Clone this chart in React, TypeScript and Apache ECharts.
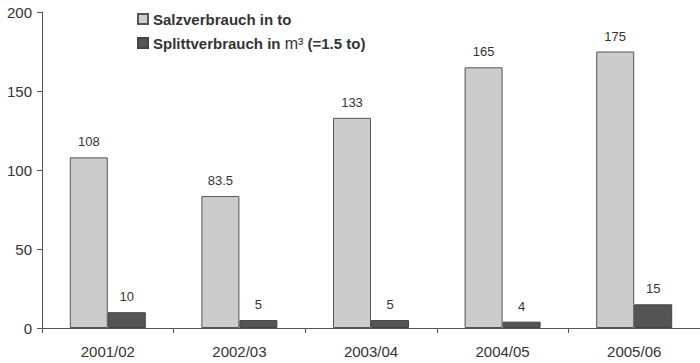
import React, { useEffect, useRef } from "react";
import * as echarts from "echarts";

const seasons = ["2001/02", "2002/03", "2003/04", "2004/05", "2005/06"];
const saltTons = [108, 83.5, 133, 165, 175];
const gritCubicMeters = [10, 5, 5, 4, 15];
const yTicks = [0, 50, 100, 150, 200];

const FONT = "'Liberation Sans', Arial, sans-serif";

export default function App() {
  const ref = useRef<HTMLDivElement>(null);

  useEffect(() => {
    if (!ref.current) return;
    const chart = echarts.init(ref.current, undefined, { renderer: "svg" });
    const valueLabel = {
      show: true,
      position: "top",
      distance: 9,
      color: "#333",
      fontSize: 13,
      fontFamily: FONT,
    };
    chart.setOption({
      animation: false,
      backgroundColor: "#ffffff",
      textStyle: { fontFamily: FONT },
      legend: {
        orient: "vertical",
        left: 132,
        top: 6,
        itemWidth: 10,
        itemHeight: 10,
        itemGap: 8,
        icon: "rect",
        textStyle: {
          fontFamily: FONT,
          fontSize: 15,
          fontWeight: "bold",
          color: "#333",
          lineHeight: 16,
          rich: {
            b: { fontFamily: FONT, fontSize: 15, fontWeight: "bold", color: "#333", lineHeight: 16 },
            m: { fontFamily: FONT, fontSize: 16, fontWeight: "normal", color: "#333", lineHeight: 16 },
          },
        },
        formatter: (name: string) =>
          name.startsWith("Splitt")
            ? "{b|Splittverbrauch in }{m|m³}{b| (=1.5 to)}"
            : "{b|" + name + "}",
        data: ["Salzverbrauch in to", "Splittverbrauch in m3 (=1.5 to)"],
      },
      grid: { left: 42, top: 12, height: 316, width: 664 },
      xAxis: {
        type: "category",
        data: seasons,
        axisLine: { lineStyle: { color: "#555", width: 1 } },
        axisTick: { show: true, length: 5, lineStyle: { color: "#555" } },
        axisLabel: { color: "#333", fontSize: 15, margin: 16, fontFamily: FONT },
      },
      yAxis: {
        type: "value",
        min: yTicks[0],
        max: yTicks[yTicks.length - 1],
        interval: 50,
        splitLine: { show: false },
        axisLine: { show: true, lineStyle: { color: "#555", width: 1 } },
        axisTick: { show: true, length: 5, lineStyle: { color: "#555" } },
        axisLabel: { color: "#333", fontSize: 15, margin: 10, fontFamily: FONT },
      },
      series: [
        {
          name: "Salzverbrauch in to",
          type: "bar",
          data: saltTons,
          barWidth: 38,
          barGap: "0%",
          itemStyle: { color: "#cccccc", borderColor: "#555", borderWidth: 1 },
          label: valueLabel,
        },
        {
          name: "Splittverbrauch in m3 (=1.5 to)",
          type: "bar",
          data: gritCubicMeters,
          barWidth: 38,
          barGap: "0%",
          itemStyle: { color: "#555555", borderColor: "#444", borderWidth: 1 },
          label: valueLabel,
        },
      ],
    });
    return () => chart.dispose();
  }, []);

  return (
    <div
      ref={ref}
      style={{ position: "fixed", left: 0, top: 0, width: 700, height: 363 }}
    />
  );
}
